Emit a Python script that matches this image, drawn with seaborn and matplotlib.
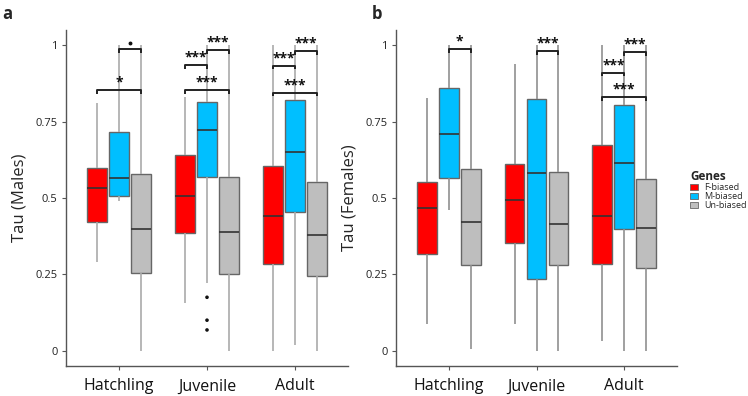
import matplotlib
matplotlib.use("Agg")
import matplotlib.pyplot as plt
from matplotlib.patches import Patch
import seaborn as sns
import pandas as pd

# ---- data ----
stages = ["Hatchling", "Juvenile", "Adult"]
genes = ["F-biased", "M-biased", "Un-biased"]
colors = ["#FF0000", "#00BFFF", "#BEBEBE"]

# (lower whisker, Q1, median, Q3, upper whisker) per stage
males_F = [(0.29, 0.423, 0.534, 0.597, 0.81), (0.155, 0.386, 0.505, 0.64, 0.83), (0.0, 0.285, 0.44, 0.605, 1.0)]
males_M = [(0.49, 0.505, 0.564, 0.715, 1.0), (0.222, 0.568, 0.724, 0.815, 1.0), (0.02, 0.455, 0.65, 0.82, 1.0)]
males_U = [(0.0, 0.256, 0.40, 0.58, 1.0), (0.0, 0.252, 0.39, 0.569, 1.0), (0.0, 0.245, 0.38, 0.553, 1.0)]
males_outlier_stage = ["Juvenile", "Juvenile", "Juvenile"]
males_outlier_gene = ["M-biased", "M-biased", "M-biased"]
males_outlier_tau = [0.175, 0.10, 0.068]

females_F = [(0.089, 0.318, 0.466, 0.551, 0.826), (0.089, 0.354, 0.493, 0.61, 0.94), (0.032, 0.285, 0.44, 0.675, 1.0)]
females_M = [(0.46, 0.567, 0.708, 0.859, 1.0), (0.0, 0.235, 0.581, 0.825, 1.0), (0.0, 0.40, 0.615, 0.806, 1.0)]
females_U = [(0.006, 0.282, 0.422, 0.596, 1.0), (0.0, 0.28, 0.416, 0.586, 1.0), (0.0, 0.27, 0.402, 0.563, 1.0)]

# significance brackets: (stage index, gene index from, gene index to, y, label)
males_sig = [(0, 1, 2, 0.987, "·"), (0, 0, 2, 0.852, "*"),
             (1, 0, 1, 0.935, "***"), (1, 1, 2, 0.985, "***"), (1, 0, 2, 0.852, "***"),
             (2, 0, 1, 0.933, "***"), (2, 1, 2, 0.980, "***"), (2, 0, 2, 0.845, "***")]
females_sig = [(0, 1, 2, 0.987, "*"), (1, 1, 2, 0.980, "***"),
               (2, 0, 1, 0.910, "***"), (2, 1, 2, 0.977, "***"), (2, 0, 2, 0.830, "***")]


def build_table(F, M, U):
    rows = []
    for g, series in zip(genes, [F, M, U]):
        for s, stats in zip(stages, series):
            for v in stats:
                rows.append({"stage": s, "gene": g, "tau": v})
    return pd.DataFrame(rows)


sns.set_theme(style="white")
plt.rcParams["font.family"] = ["Open Sans", "DejaVu Sans"]

fig = plt.figure(figsize=(7.48, 3.96), dpi=100)
W, H = 748, 396
ax_a = fig.add_axes([66 / W, 30 / H, 282 / W, 336 / H])
ax_b = fig.add_axes([396 / W, 30 / H, 281 / W, 336 / H])

offsets = [-0.25, 0.0, 0.25]


def draw(ax, F, M, U, sig, ylabel, whisker_color, outliers=None):
    df = build_table(F, M, U)
    sns.boxplot(data=df, x="stage", y="tau", hue="gene", order=stages, hue_order=genes,
                palette=colors, saturation=1, whis=(0, 100), showfliers=False, showcaps=False,
                width=0.75, gap=0.1, linewidth=1.0, linecolor="#666666",
                whiskerprops=dict(color=whisker_color, linewidth=1.2),
                medianprops=dict(color="#333333", linewidth=1.2),
                legend=False, ax=ax)
    if outliers is not None:
        odf = pd.DataFrame({"stage": outliers[0], "gene": outliers[1], "tau": outliers[2]})
        sns.stripplot(data=odf, x="stage", y="tau", hue="gene", order=stages, hue_order=genes,
                      palette=["#111111"] * 3, dodge=True, jitter=False, size=2.6,
                      linewidth=0, legend=False, ax=ax)
    for (si, g0, g1, y, lab) in sig:
        x0 = si + offsets[g0]
        x1 = si + offsets[g1]
        ax.plot([x0, x0, x1, x1], [y - 0.012, y, y, y - 0.012], color="#222222", lw=1.4,
                solid_capstyle="butt", zorder=5)
        if lab == "·":
            ax.plot([(x0 + x1) / 2], [y + 0.02], marker="o", markersize=1.8,
                    color="#111111", linestyle="none", zorder=5)
        else:
            ax.text((x0 + x1) / 2, y + 0.002, lab, ha="center", va="bottom", fontsize=10,
                    color="#111111", fontweight="bold")
    ax.set_xlim(-0.6, 2.6)
    ax.set_ylim(-0.05, 1.05)
    ax.set_yticks([0, 0.25, 0.5, 0.75, 1.0])
    ax.set_yticklabels(["0", "0.25", "0.5", "0.75", "1"])
    ax.set_xlabel("")
    ax.set_ylabel(ylabel, fontsize=12, labelpad=6)
    ax.tick_params(axis="y", labelsize=8, length=3, width=0.8, color="#555555",
                   labelcolor="#222222", pad=3, left=True)
    ax.tick_params(axis="x", labelsize=11.5, length=3, width=0.8, color="#555555",
                   labelcolor="#111111", pad=6, bottom=True)
    for side in ["top", "right"]:
        ax.spines[side].set_visible(False)
    for side in ["left", "bottom"]:
        ax.spines[side].set_color("#555555")
        ax.spines[side].set_linewidth(1.0)
    ax.grid(False)


draw(ax_a, males_F, males_M, males_U, males_sig, "Tau (Males)", "#AAAAAA",
     outliers=(males_outlier_stage, males_outlier_gene, males_outlier_tau))
draw(ax_b, females_F, females_M, females_U, females_sig, "Tau (Females)", "#909090")

fig.text(2 / W, 1 - 14 / H, "a", fontsize=12, fontweight="bold", va="center", ha="left")
fig.text(372 / W, 1 - 14 / H, "b", fontsize=12, fontweight="bold", va="center", ha="left")

handles = [Patch(facecolor=c, edgecolor="#666666", linewidth=0.6) for c in colors]
leg = fig.legend(handles, genes, title="Genes", loc="upper left",
                 bbox_to_anchor=(684 / W, 1 - 164 / H), frameon=False,
                 fontsize=6.5, title_fontsize=8.5, handlelength=0.8, handleheight=0.6,
                 handletextpad=0.7, labelspacing=0.0, borderpad=0.2)
leg.get_title().set_fontweight("bold")
leg._legend_box.align = "left"

fig.savefig("out.png", dpi=100)
